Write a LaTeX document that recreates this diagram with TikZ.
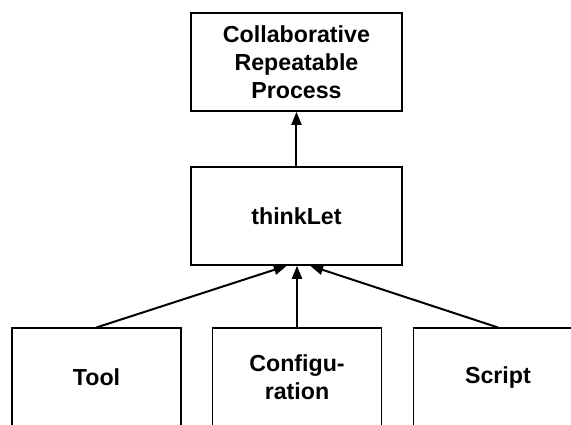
\documentclass[tikz,border=0pt]{standalone}
\usepackage{fontspec}
\setmainfont{Liberation Sans}
\usepackage{tikz}
\usetikzlibrary{arrows.meta,positioning,calc}

\begin{document}
\begin{tikzpicture}[font=\fontsize{11.6}{14}\selectfont\bfseries,
  topbox/.style={draw,line width=0.8pt,minimum width=3.71cm,minimum height=1.72cm,align=center,inner sep=0pt},
  basebox/.style={draw,line width=0.6pt,minimum width=2.97cm,minimum height=1.72cm,align=center,inner sep=0pt},
  link/.style={line width=1pt,-{Triangle[length=6.5pt,width=5pt]}}]
\useasboundingbox (0,0) rectangle (10.034,7.451);
\clip (0,0) rectangle (10.034,7.451);
\node[topbox] (crp) at (5.21,6.36) {Collaborative\\Repeatable\\Process};
\node[topbox] (think) at (5.21,3.655) {thinkLet};
\node[basebox] (tool) at (1.696,0.826) {Tool};
\node[basebox] (config) at (5.219,0.826) {Configu-\\ration};
\node[basebox] (script) at (8.75,0.826) {Script};
\draw[link] (think) -- (crp);
\draw[link] (tool.north) -- ($(think.south)+(-0.17,0)$);
\draw[link] (config.north) -- (config.north|-think.south);
\draw[link] (script.north) -- ($(think.south)+(0.24,0)$);
\end{tikzpicture}
\end{document}
